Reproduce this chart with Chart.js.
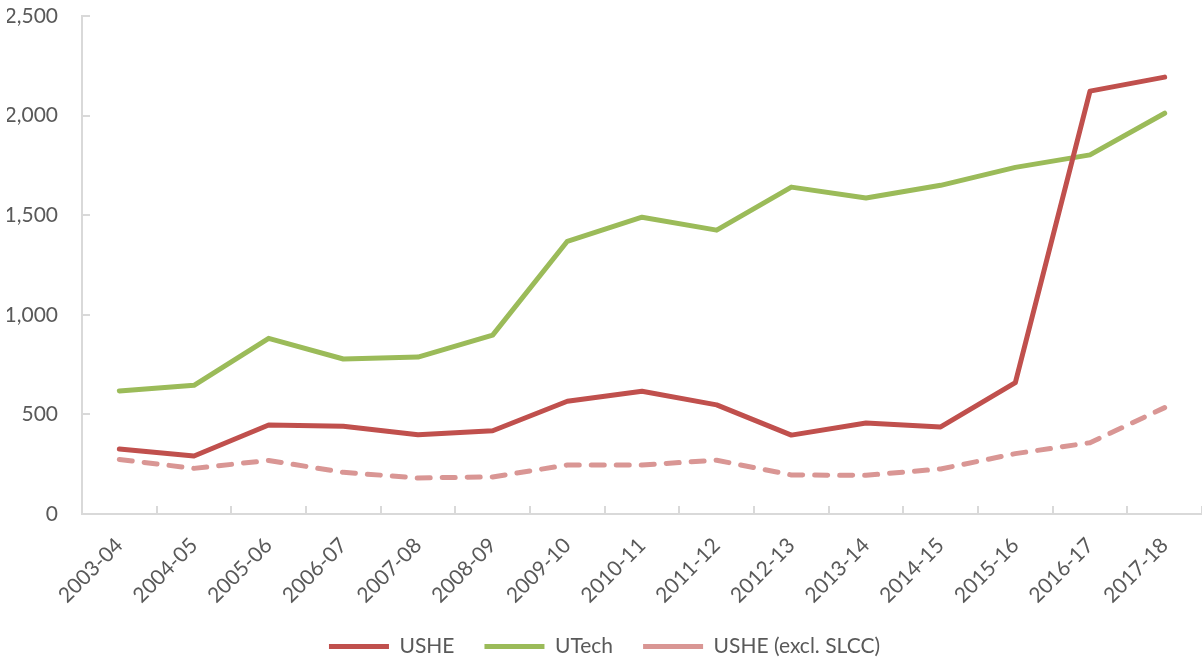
<!DOCTYPE html>
<html>
<head>
<meta charset="utf-8">
<script src="https://cdn.jsdelivr.net/npm/chart.js@4"></script>
<style>
  html, body { margin: 0; padding: 0; background: #fff; }
</style>
</head>
<body>
<canvas id="chart" width="1202" height="662"></canvas>
<script>
    const years = ['2003-04', '2004-05', '2005-06', '2006-07', '2007-08', '2008-09', '2009-10', '2010-11',
        '2011-12', '2012-13', '2013-14', '2014-15', '2015-16', '2016-17', '2017-18'];
    const ushe = [326, 291, 447, 440, 398, 418, 566, 616, 548, 396, 457, 437, 660, 2123, 2193];
    const utech = [618, 646, 882, 778, 788, 898, 1369, 1490, 1425, 1641, 1586, 1650, 1740, 1803, 2012];
    const usheExclSlcc = [274, 229, 269, 209, 181, 186, 246, 246, 270, 196, 194, 226, 303, 358, 534];

    const textColor = '#595959';
    const axisColor = '#d9d9d9';
    Chart.defaults.font.family = 'Lato, "Open Sans", sans-serif';
    Chart.defaults.font.size = 21;
    Chart.defaults.color = textColor;

    const line = (label, data, color, dash) => ({
        label: label,
        data: data,
        borderColor: color,
        backgroundColor: color,
        borderWidth: 5,
        borderDash: dash || [],
        borderCapStyle: 'round',
        borderJoinStyle: 'round',
        pointRadius: 0,
        pointHoverRadius: 0,
        pointStyle: 'line',
        tension: 0,
        fill: false
    });

    new Chart(document.getElementById('chart'), {
        type: 'line',
        data: {
            labels: years,
            datasets: [
                line('USHE', ushe, '#c0504d'),
                line('UTech', utech, '#9bbb59'),
                line('USHE (excl. SLCC)', usheExclSlcc, '#d99694', [13, 12])
            ]
        },
        options: {
            responsive: false,
            animation: false,
            layout: { padding: { left: 7, right: 0, top: 16, bottom: -5 } },
            plugins: {
                tooltip: { enabled: false },
                legend: {
                    position: 'bottom',
                    labels: {
                        usePointStyle: true,
                        pointStyle: 'line',
                        pointStyleWidth: 60,
                        padding: 30,
                        color: textColor
                    }
                }
            },
            scales: {
                x: {
                    offset: true,
                    grid: {
                        offset: true,
                        drawOnChartArea: false,
                        color: axisColor,
                        lineWidth: 2,
                        tickLength: -8
                    },
                    border: { color: axisColor, width: 2 },
                    ticks: { maxRotation: 45, minRotation: 45, color: textColor, padding: 27 },
                    // ticks sit inside the plot, so trim the space Chart.js reserves
                    afterFit: s => { s.paddingLeft = 0; s.paddingRight = 0; s.height = 92; }
                },
                y: {
                    min: 0,
                    max: 2500,
                    grid: {
                        drawOnChartArea: false,
                        color: axisColor,
                        lineWidth: 2,
                        tickLength: -8
                    },
                    border: { color: axisColor, width: 2 },
                    ticks: { stepSize: 500, color: textColor, padding: 32 },
                    afterFit: s => { s.paddingTop = 0; s.paddingBottom = 0; s.width = 75; }
                }
            }
        }
    });
</script>
</body>
</html>
